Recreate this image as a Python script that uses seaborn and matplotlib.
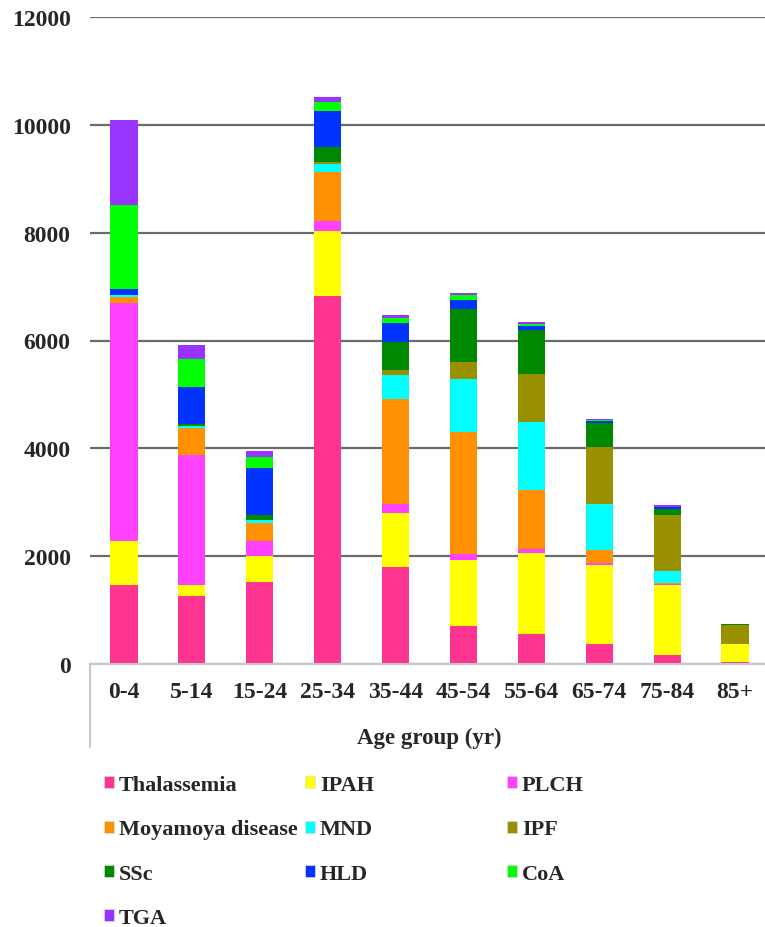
import numpy as np
import pandas as pd
import seaborn as sns
import matplotlib.pyplot as plt
import matplotlib.patches as mpatches
from matplotlib.lines import Line2D

age_groups = ["0-4", "5-14", "15-24", "25-34", "35-44", "45-54", "55-64", "65-74", "75-84", "85+"]

# cases per age group, one list per disease (bottom to top of the stack)
thalassemia = [1470, 1260, 1515, 6825, 1790, 710, 550, 370, 160, 45]
ipah = [820, 210, 480, 1200, 1015, 1210, 1500, 1465, 1310, 320]
plch = [4400, 2415, 295, 200, 155, 120, 80, 30, 10, 5]
moyamoya = [125, 500, 330, 905, 1955, 2260, 1090, 245, 30, 5]
mnd = [35, 35, 60, 150, 440, 990, 1270, 860, 220, 5]
ipf = [0, 0, 0, 30, 105, 305, 880, 1060, 1030, 340]
ssc = [0, 35, 90, 270, 510, 980, 825, 435, 120, 20]
hld = [100, 685, 860, 675, 355, 170, 75, 35, 30, 0]
coa = [1570, 515, 205, 165, 100, 95, 40, 25, 10, 0]
tga = [1570, 260, 115, 100, 55, 50, 35, 25, 20, 0]

diseases = ["Thalassemia", "IPAH", "PLCH", "Moyamoya disease", "MND", "IPF", "SSc", "HLD", "CoA", "TGA"]
series = [thalassemia, ipah, plch, moyamoya, mnd, ipf, ssc, hld, coa, tga]
colors = ["#FF3390", "#FFFF00", "#FF40FF", "#FF9000", "#00FFFF",
          "#999000", "#008800", "#0033FF", "#00FF00", "#9933FF"]

df = pd.DataFrame(dict(zip(diseases, series)), index=age_groups)
cum = df.cumsum(axis=1)

sns.set_style("white")
plt.rcParams["font.family"] = ["Liberation Serif", "DejaVu Serif"]
plt.rcParams["font.weight"] = "bold"
fs = 16

fig = plt.figure(figsize=(7.65, 9.28), dpi=100, facecolor="white")
# plot area runs a little past the right edge of the figure, as in the source image
ax = fig.add_axes([90 / 765, (928 - 665) / 928, 679 / 765, (665 - 18) / 928])

# draw running totals from the top layer down so each one covers the previous
for name, col in reversed(list(zip(diseases, colors))):
    sns.barplot(x=age_groups, y=cum[name].values, color=col, width=0.4,
                saturation=1, edgecolor="none", ax=ax, zorder=2)

ax.set_ylim(0, 12000)
ax.set_xlim(-0.5, len(age_groups) - 0.5)
ax.set_yticks(np.arange(0, 12001, 2000))
ax.yaxis.grid(True, color="#6b6b6b", linewidth=1.6, zorder=0)
ax.set_axisbelow(True)
for s in ["left", "right", "top"]:
    ax.spines[s].set_visible(False)
ax.spines["bottom"].set_color("#c8c8c8")
ax.spines["bottom"].set_linewidth(1.5)
ax.tick_params(axis="y", length=0, pad=14, labelsize=17)
ax.tick_params(axis="x", length=0, pad=12, labelsize=17)
for lab in ax.get_xticklabels() + ax.get_yticklabels():
    lab.set_fontweight("bold")
ax.set_xlabel("Age group (yr)", fontsize=16.5, fontweight="bold", labelpad=18)
ax.set_ylabel("")

fig.add_artist(Line2D([90 / 765, 90 / 765], [(928 - 665) / 928, (928 - 748) / 928],
                      color="#c8c8c8", linewidth=1.5))

handles = [mpatches.Patch(facecolor=c, edgecolor="#dddddd", linewidth=0.5, label=d)
           for d, c in zip(diseases, colors)]
columns = [[0, 3, 6, 9], [1, 4, 7], [2, 5, 8]]
xpos = [104 / 765, 305 / 765, 507 / 765]
for idx, x in zip(columns, xpos):
    fig.legend(handles=[handles[i] for i in idx], loc="upper left",
               bbox_to_anchor=(x, (928 - 776) / 928), frameon=False,
               prop={"size": fs, "weight": "bold"}, handlelength=0.45,
               handleheight=0.45, handletextpad=0.22, labelspacing=1.1,
               borderaxespad=0, borderpad=0)

fig.savefig("out.png", dpi=100, facecolor="white")
